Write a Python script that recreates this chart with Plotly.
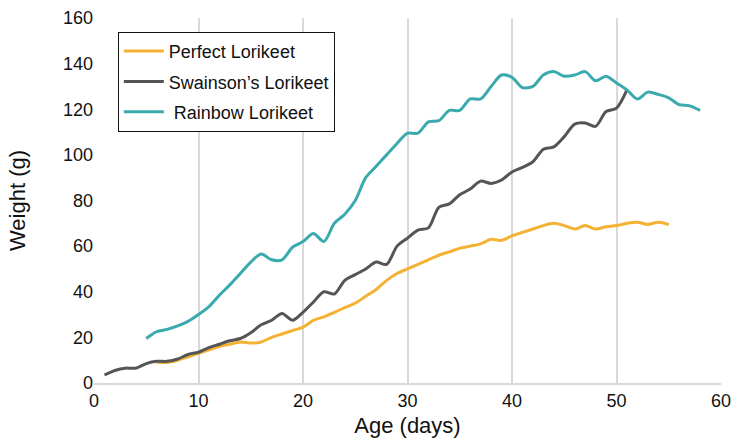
import plotly.graph_objects as go

# Daily body weight (g) of hand-reared lorikeet chicks
perfect_days = list(range(6, 56))
perfect_weight = [9, 9, 10, 11.5, 13, 14.5, 16, 17, 18, 17.5,
                  18, 20, 21.5, 23, 24.5, 27.5, 29, 31, 33, 35,
                  38, 41, 45, 48, 50, 52, 54, 56, 57.5, 59,
                  60, 61, 63, 62.5, 64.5, 66, 67.5, 69, 70, 69,
                  67.5, 69, 67.5, 68.5, 69, 70, 70.5, 69.5, 70.5, 69.5]

swainson_days = list(range(1, 52))
swainson_weight = [3.5, 5.5, 6.5, 6.5, 8.5, 9.5, 9.5, 10.5, 12.5, 13.5,
                   15.5, 17, 18.5, 19.5, 22, 25.5, 27.5, 30.5, 27.5, 31,
                   35.5, 40, 39, 45, 47.5, 50, 53, 52, 60, 63.5,
                   67, 68, 77, 78.5, 82.5, 85, 88.5, 87.5, 89, 92.5,
                   94.5, 97, 102.5, 103.5, 108, 113.5, 114, 112.5, 119, 120.5,
                   128.5]

rainbow_days = list(range(5, 59))
rainbow_weight = [19.5, 22.5, 23.5, 25, 27, 30, 33.5, 38.5, 43, 48,
                  53, 56.5, 54, 54, 59.5, 62, 65.5, 62, 70, 74,
                  80, 90, 95, 100, 105, 109.5, 109.5, 114.5, 115, 119.5,
                  119.5, 124.5, 124.5, 130, 135, 134, 129.5, 130, 135, 136.5,
                  134.5, 135, 136.5, 132.5, 134.5, 131.5, 128.5, 124.5, 127.5, 126.5,
                  125, 122, 121.5, 119.5]

x_ticks = [0, 10, 20, 30, 40, 50, 60]
y_ticks = [0, 20, 40, 60, 80, 100, 120, 140, 160]

FONT = "Liberation Sans, Arial, Helvetica, sans-serif"

series = [
    ("Perfect Lorikeet", perfect_days, perfect_weight, "#F3B233"),
    ("Swainson’s Lorikeet", swainson_days, swainson_weight, "#555555"),
    ("\u00a0Rainbow Lorikeet", rainbow_days, rainbow_weight, "#3AAAAE"),
]

fig = go.Figure()
for i, (name, xs, ys, color) in enumerate(series):
    fig.add_trace(go.Scatter(
        x=xs, y=ys, name=name, mode="lines",
        line=dict(color=color, width=3, shape="spline", smoothing=0.8),
        legendgroup=f"g{i}",
    ))

fig.update_layout(
    width=733, height=447,
    margin=dict(l=94, r=12, t=18, b=64, autoexpand=False),
    paper_bgcolor="white", plot_bgcolor="white",
    font=dict(family=FONT, size=18, color="#111111"),
    showlegend=True,
    legend=dict(
        x=0.038, y=0.962, xanchor="left", yanchor="top",
        bgcolor="white", bordercolor="#111111", borderwidth=1,
        font=dict(family=FONT, size=18, color="#111111"),
        tracegroupgap=4, itemwidth=40,
    ),
    xaxis=dict(
        range=[0, 60], tickvals=x_ticks, automargin=False,
        showgrid=True, gridcolor="#D9D9D9", gridwidth=2,
        showline=True, linecolor="#D9D9D9", linewidth=2,
        zeroline=False, ticks="",
        title=dict(text="Age (days)", standoff=8),
        tickfont=dict(size=18),
    ),
    yaxis=dict(
        range=[0, 160], tickvals=y_ticks, automargin=False,
        showgrid=False, showline=False, zeroline=False, ticks="",
        title=dict(text="Weight (g)", standoff=31),
        tickfont=dict(size=18),
    ),
)

fig.write_html("out.html")
